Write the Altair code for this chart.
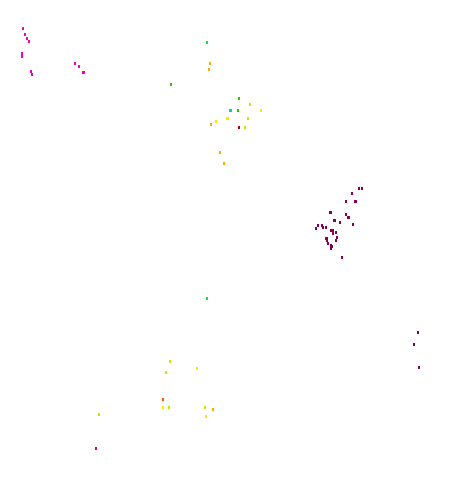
import altair as alt
import pandas as pd

# point positions (horizontal / vertical units)
xs = [23, 25, 27, 29, 4, 3, 22, 22, 31, 32, 75, 79, 83, 84,
      207, 210, 209, 171, 239, 250, 230, 231, 238, 261, 227, 228, 248, 216, 211, 239, 245, 220, 224,
      359, 362, 352, 346, 355, 356, 330, 331, 346, 349, 348, 334, 335, 340, 353, 318, 322, 323, 326, 316, 331, 333, 333, 336,
      326, 327, 327, 337, 336, 328, 331, 332, 331, 342, 418, 414, 419,
      207, 170, 197, 166, 163, 163, 169, 205, 213, 206, 99, 96]
ys = [28.5, 34.5, 38.5, 41.5, 52.5, 55.5, 53.5, 56.5, 71.5, 74.5, 63.5, 66.5, 72.5, 72.5,
      42.5, 63.5, 69.5, 84.5, 98.5, 104.5, 110.5, 110.5, 110.5, 110.5, 118.5, 118.5, 118.5, 121.5, 124.5, 127.5, 127.5, 152.5, 163.5,
      188.5, 188.5, 193.5, 201.5, 201.5, 201.5, 212.5, 212.5, 214.5, 217.5, 217.5, 220.5, 220.5, 222.5, 224.5, 225.5, 225.5, 227.5, 227.5, 228.5, 230.5, 230.5, 233.5, 232.5,
      238.5, 238.5, 240.5, 237.5, 240.5, 243.5, 245.5, 246.5, 248.5, 257.5, 332.5, 344.5, 367.5,
      298.5, 361.5, 368.5, 372.5, 399.5, 407.5, 407.5, 407.5, 409.5, 416.5, 414.5, 448.5]
groups = (["magenta"] * 14 +
          ["lime", "orange", "orange", "green", "green", "chartreuse", "teal", "teal", "green", "yellow",
           "yellow", "yellow", "chartreuse", "yellow", "orange", "red", "chartreuse", "orange", "orange"] +
          ["purple"] * 37 +
          ["lime", "chartreuse", "yellow", "chartreuse", "vermilion", "yellow", "chartreuse",
           "chartreuse", "orange", "yellow", "chartreuse", "crimson"])

group_names = ["magenta", "crimson", "purple", "red", "vermilion", "orange", "yellow",
               "chartreuse", "green", "lime", "teal"]
group_colors = ["#f000c8", "#cc0066", "#850055", "#b00000", "#ff5500", "#ffaa00", "#ffe600",
                "#b8f000", "#22cc00", "#00f030", "#00d890"]

df = pd.DataFrame({"x": xs, "y": ys, "g": groups})

chart = alt.Chart(df).mark_rect(width=2, height=3).encode(
    x=alt.X("x:Q", scale=alt.Scale(domain=[0, 465], nice=False, zero=False), axis=None),
    y=alt.Y("y:Q", scale=alt.Scale(domain=[0, 488], nice=False, zero=False, reverse=True), axis=None),
    color=alt.Color("g:N", scale=alt.Scale(domain=group_names, range=group_colors), legend=None),
).properties(
    width=465, height=488,
    autosize=alt.AutoSizeParams(type="none"),
    padding={"left": -8, "top": -8, "right": -8, "bottom": -8},
).configure_view(stroke=None)

chart.save("out.html", embed_options={"renderer": "svg", "actions": False})
